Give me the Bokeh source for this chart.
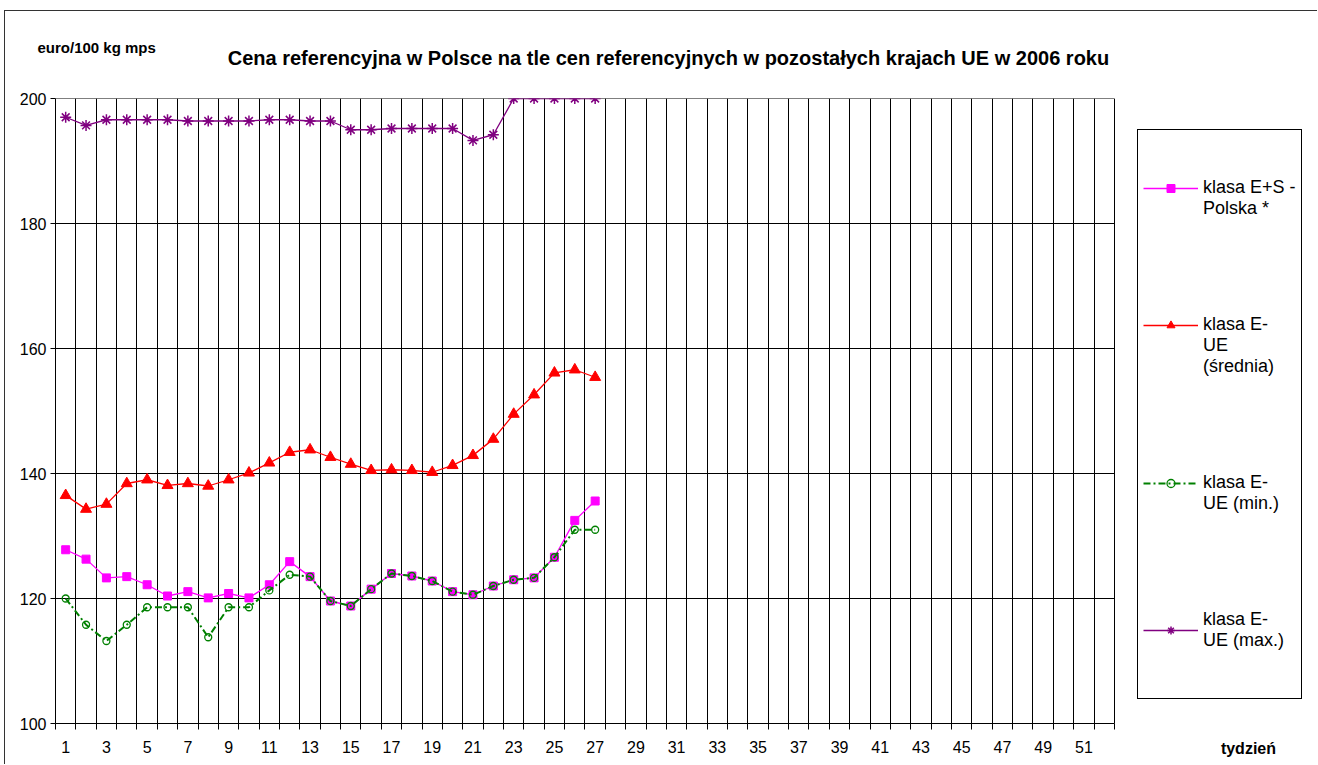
from bokeh.plotting import figure
from bokeh.models import FixedTicker, Legend, LegendItem, Label, Range1d
from bokeh.embed import file_html
from bokeh.resources import INLINE

weeks = list(range(1, 28))
polska = [127.8, 126.3, 123.3, 123.5, 122.2, 120.4, 121.1, 120.1, 120.8, 120.1,
          122.2, 125.9, 123.5, 119.6, 118.8, 121.5, 124.0, 123.6, 122.8, 121.1,
          120.6, 122.0, 123.0, 123.3, 126.6, 132.5, 135.6]
srednia = [136.5, 134.3, 135.1, 138.4, 139.0, 138.1, 138.4, 138.0, 139.0, 140.1,
           141.7, 143.4, 143.8, 142.6, 141.5, 140.5, 140.6, 140.5, 140.2, 141.3,
           142.9, 145.5, 149.5, 152.6, 156.1, 156.6, 155.4]
minimum = [120.0, 115.8, 113.2, 115.8, 118.6, 118.6, 118.6, 113.8, 118.6, 118.6,
           121.3, 123.8, 123.5, 119.6, 118.8, 121.5, 124.0, 123.6, 122.8, 121.1,
           120.6, 122.0, 123.0, 123.3, 126.6, 131.0, 131.0]
maximum = [197.0, 195.7, 196.6, 196.6, 196.6, 196.6, 196.4, 196.4, 196.4, 196.4,
           196.6, 196.6, 196.4, 196.4, 195.0, 195.0, 195.2, 195.2, 195.2, 195.2,
           193.3, 194.2, 200.0, 200.0, 200.0, 200.0, 200.0]

y_ticks = [100, 120, 140, 160, 180, 200]
x_labels = list(range(1, 52, 2))
week_edges = [k + 0.5 for k in range(0, 53)]

series_names = [["klasa E+S -", "Polska *"],
                ["klasa E-", "UE", "(średnia)"],
                ["klasa E-", "UE (min.)"],
                ["klasa E-", "UE (max.)"]]
title_text = "Cena referencyjna w Polsce na tle cen referencyjnych w pozostałych krajach UE w 2006 roku"
y_label = "euro/100 kg mps"
x_label = "tydzień"

FONT = "Liberation Sans"


def legend_label(lines, above, below):
    # blank lines place the legend symbol level with the first text line
    return "\n".join([" "] * above + lines + [" "] * below)


p = figure(width=1313, height=754, output_backend="svg", toolbar_location=None,
           x_range=Range1d(0.5, 62.52), y_range=Range1d(100, 200),
           min_border_left=50, min_border_right=0, min_border_top=87,
           min_border_bottom=42, background_fill_color="white",
           border_fill_color="white")
p.styles = {"margin-left": "4px", "margin-top": "10px",
            "border-left": "1px solid #333333", "border-top": "1px solid #333333"}
p.outline_line_color = None

p.xgrid.ticker = FixedTicker(ticks=week_edges)
p.xgrid.grid_line_color = "black"
p.xgrid.grid_line_width = 1
p.xgrid.grid_line_alpha = 1.0
p.ygrid.visible = False
# horizontal grid lines limited to the week span
p.segment(x0=[week_edges[0]] * len(y_ticks), x1=[week_edges[-1]] * len(y_ticks),
          y0=y_ticks, y1=y_ticks, line_color="black", line_width=1)

p.xaxis.ticker = FixedTicker(ticks=x_labels, minor_ticks=week_edges)
p.xaxis.bounds = (week_edges[0], week_edges[-1])
p.xaxis.major_tick_line_color = None
p.xaxis.major_tick_out = 6
p.xaxis.major_tick_in = 0
p.xaxis.minor_tick_out = 6
p.xaxis.minor_tick_in = 0
p.xaxis.minor_tick_line_color = "black"
p.xaxis.major_label_standoff = 11

p.yaxis.ticker = FixedTicker(ticks=y_ticks)
p.yaxis.major_tick_out = 5
p.yaxis.major_tick_in = 0
p.yaxis.minor_tick_line_color = None
p.yaxis.major_label_standoff = 4

for ax in (p.xaxis, p.yaxis):
    ax.axis_line_color = "black"
    ax.major_label_text_font = FONT
    ax.major_label_text_font_size = "16px"
    ax.major_label_text_color = "black"

r1 = p.line(weeks, polska, line_color="#FF00FF", line_width=1.3)
s1 = p.scatter(weeks, polska, marker="square", size=8, fill_color="#FF00FF",
               line_color="#FF00FF")
r2 = p.line(weeks, srednia, line_color="#FF0000", line_width=1.3)
s2 = p.scatter(weeks, srednia, marker="triangle", size=11, fill_color="#FF0000",
               line_color="#FF0000")
r3 = p.line(weeks, minimum, line_color="#008000", line_width=2, line_dash="7 3 2 3")
s3 = p.scatter(weeks, minimum, marker="circle", size=7, fill_color=None,
               line_color="#008000", line_width=1.3)
r4 = p.line(weeks, maximum, line_color="#800080", line_width=1.3)
s4 = p.scatter(weeks, maximum, marker="asterisk", size=11, line_color="#800080",
               line_width=1.5)

legend = Legend(items=[LegendItem(label=legend_label(series_names[0], 2, 1), renderers=[r1, s1]),
                       LegendItem(label=legend_label(series_names[1], 3, 1), renderers=[r2, s2]),
                       LegendItem(label=legend_label(series_names[2], 3, 2), renderers=[r3, s3]),
                       LegendItem(label=legend_label(series_names[3], 2, 2), renderers=[r4, s4])],
                location=(1082, 24), orientation="vertical",
                border_line_color="black", border_line_width=1, border_line_alpha=1.0,
                background_fill_color="white", background_fill_alpha=1,
                label_text_font=FONT, label_text_font_size="18px",
                label_text_color="black",
                glyph_width=55, glyph_height=20, padding=5, spacing=11,
                margin=0, label_standoff=5)
p.add_layout(legend)

p.add_layout(Label(x=-0.384, y=208.16, text=y_label,
                   text_font=FONT, text_font_style="bold", text_font_size="15px",
                   text_baseline="middle", text_color="black"), "above")
p.add_layout(Label(x=30.6, y=206.56, text=title_text,
                   text_font=FONT, text_font_style="bold", text_font_size="20px",
                   text_baseline="middle", text_align="center", text_color="black"), "above")
p.add_layout(Label(x=59.08, y=96.0, text=x_label,
                   text_font=FONT, text_font_style="bold", text_font_size="16px",
                   text_baseline="middle", text_align="center", text_color="black"), "above")

open("out.html", "w").write(file_html(p, INLINE))
